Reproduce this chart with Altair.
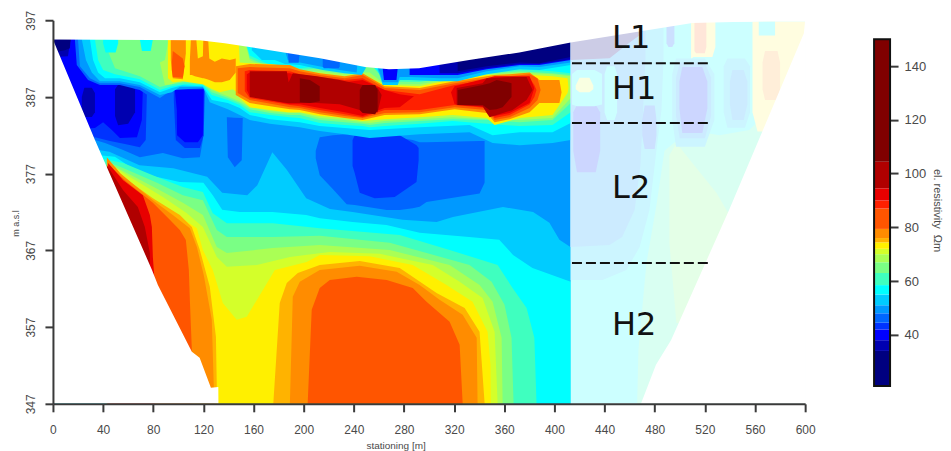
import altair as alt
import pandas as pd

TOPV = 396.8
BOT = 347

# ---------- palette (colour-bar order, low to high) ----------
band_edges = [21,34,38,42,44.5,48,51,55,58.5,63,67,70,72,74.4,76,79.4,87,90,94.5,104.4,150]
band_cols = ["#000080","#0000b0","#0000ff","#0033ff","#0066ff","#0099ff","#00ccff","#00ffff","#3fffbf","#7aff85",
             "#aaff55","#d4ff2a","#fff000","#ffb300","#ff8c00","#ff5500","#ff2000","#e80000","#b00000","#800000"]
NAVY,DB,BLUE,B33,B66,B99,BCC,CY,E3,G7,GA,GD,YE,OB,O8,O5,R2,RE,RB,MA = band_cols

def pale(c, a=0.2):
    r = [int(c[i:i+2],16) for i in (1,3,5)]
    return "#%02x%02x%02x" % tuple(round(255-a*(255-v)) for v in r)

# ---------- outline ----------
surf_x = [0,117,137,173,213,249,268,292,332,372,413,510,600]
surf_y = [394.5,394.4,394,393.1,392.05,390.9,390.6,390.75,391.8,392.8,394.1,396.65,397]
floor_x = [0,33.5,79,83.7,110.8,117,126,131.9,132,469,481,493,539.4,599,600]
floor_y = [394.5,381.4,364.45,362.5,353.8,353,349.1,349.2,347,347,352.1,355.3,372.3,395.3,397]

# ---------- low-resistivity blobs ----------
b66l_x = [0,33.5,41.5,56,69.3,87.7,103.6,117.2,119.6,120.3]
b66l_b = [382.7,381.4,381,380.1,379.15,379.7,379,379.15,381.4,388.4]
b66c_x = [138.7,139.5,145,150.6,151.4]
b66c_t = [384.35,384.35,384.3,384.25,384.25]
b66c_b = [384.35,379.15,377.85,378.75,384.25]
b66m_x = [209.6,212.8,223.2,234.3,240.7,266.2,276.6,287,292.5,298,340.3,344.3]
b66m_t = [380,381.75,382,382.15,382.4,382.55,381.65,381.4,381.1,381.1,381.25,381.25]
b66m_b = [379,376.8,375,373,372.9,372.25,372.25,372.5,372.7,373.3,374.4,375.8]
b33m_x = [239,240.7,244.7,256.6,272.6,290,291.7]
b33m_t = [381.4,382,382.55,382.7,382.4,380.7,380.35]
b33m_b = [378,377.1,374.5,373.8,373.95,375.9,378.75]
b33l_x = [0,33.5,45.5,57.4,69.3,74,75]
b33l_b = [382,381.75,381.25,380.85,380.45,381.4,387.9]
b33c_x = [96.4,98,105.2,117.2,120.3,121.1]
b33c_b = [386.6,381.4,380.35,380.35,382,388.4]
b00l_x = [0,33.5,40,47,53.4,67,70.9,71.7]
b00l_b = [382.7,382.95,383.7,382.7,381.65,381.75,384,387.9]
b00c_x = [97.2,98.8,99,105.2,115.6,119.6,120.3]
b00c_b = [387.9,385.3,382,381.1,381.1,382,388.4]
db1_x = [23,25,31,33.5]
db1_t = [387,388.2,388.2,387.5]
db1_b = [385,384.4,384.4,385]
db2_x = [49.5,52,60,65.5]
db2_t = [388,388.6,388.6,388]
db2_b = [384.5,383.3,383.5,385]

# ---------- deep contours (upper edge, filled to the floor) ----------
c1_x = [0,45,69,96,123,135,155,163,175,186.5,202,221,239,279,306,319,359,383,396,404,413]
c1_t = [381,379.85,378.1,377.7,376.6,374.5,374.2,375.5,379.8,377.5,373.8,372.4,372,371,370.7,371.35,372.65,372,370.6,368.4,367.4]
c2_x = [0,49.4,69,101,120,127.5,135,149,175,202,213,239,266,292.5,332,356,367,382.5,413]
c2_t = [380,379.2,377.1,375.9,375.8,374.2,372.3,372,372,371.6,371.2,370.7,370.3,369.3,368.75,368.4,366.4,364.7,362.9]
c3_x = [41,56,83,103.6,119.6,127.5,138.7,175.3,212.8,276.6,316.4,354.7,366.6,377.8,384,385.7,386]
c3_t = [378.9,378.4,376.55,375.25,374.6,371.85,370.55,370.55,369.9,369,367.05,365.1,362.1,359.5,355.6,347.1,347]
c4_x = [43,56,83,103.6,119.6,130.7,138.7,175.3,212.8,268.6,332.3,349.9,360.2,365.8,367.4,367.6]
c4_t = [378.6,377.75,375.8,374.2,373.55,369.65,368.75,368.75,368.9,368,365.1,362.9,359.9,355.6,347.1,347]
c5_x = [44,59,85.3,103.6,119.6,130.7,138.7,175.3,212.8,268.6,316.4,340.3,350.7,357.9,358.7,359]
c5_t = [378.4,377.1,374.85,373.2,371.6,367.45,366.65,367.3,367.7,367.05,365.1,362.5,360.3,355.6,347.1,347]
c6_x = [45,61.4,87.7,106.8,119.6,130.7,138.7,162.6,189,220.8,260.6,303,324.4,342.7,352.3,354.7,355]
c6_t = [378.3,376.55,373.95,371.85,370.05,366.15,364.85,365.1,366.15,366.8,366.55,365.1,362.9,360.8,356.4,347.1,347]
c7_x = [46,59,83,101.2,114.8,119.6,127.5,135.5,146.6,154.6,177,202.4,212.8,252.6,287,314,334.7,346.7,349,349.2,349.4]
c7_t = [378.3,375.9,373.2,371.35,369.9,367.05,364.45,360.15,357.95,358.35,364.45,365.5,366.4,366.25,365.1,362.5,360.3,356.4,352.1,347.1,347]
obl_x = [49,56,79.7,101.2,110.8,117.2,125.1,130,130.7,131]
obl_t = [378,376.55,373.8,371.6,370.05,367.05,362.25,355.75,349.2,347]
obh_x = [175.5,175.8,180.9,186.5,195.3,212.8,244.7,276.6,306,328.4,340.3,344.3,344.5]
obh_t = [347,347.1,360.15,362.75,364.05,365.1,365.6,364.7,361.45,359.5,356.4,347.1,347]
o8l_x = [43,53.4,79.7,95.6,109.2,114.8,120.3,126.7,128.3,128.6]
o8l_t = [379.15,377.1,373.55,371.6,369.9,367.45,363.8,357.95,349.2,347]
o8h_x = [188.8,189,191.3,196.9,212.8,244.7,274.2,292.5,308.4,326.8,338,338.7,339]
o8h_t = [347,347.1,360.95,362.9,364.45,365,364.2,362.5,360.55,358.6,355.6,347.1,347]
o5l_x = [47,59,79.7,93.2,101.2,106,108.4,109.2,110.8,111.2]
o5l_t = [377.75,375.9,373.2,371,369.65,368.35,364.45,360.55,354.05,347]
o5h_x = [203,203.2,206.4,212.8,220.8,242.3,266.2,287,298,316.4,324.4,326.8,327]
o5h_t = [347,347.1,359.25,362.1,363.15,363.55,363.15,362.1,360.3,357.7,354.7,347.1,347]
rel_x = [44,56,71.7,77.3,78.9,79.7,81.3,81.5]
rel_t = [378.4,376.15,374.2,371.6,370.05,366.15,362.5,347]
rbl_x = [43,56,67.7,73.3,77.3,77.5]
rbl_t = [378.1,374.85,372.65,370.05,366.65,347]

# ---------- upper layer contours ----------
A_x = [17.5,19,28,37.5,53.4,69.3,85.3,94.8,97,121.1]
A_b = [394.5,391.15,389.2,388.55,388.55,387.9,386.2,387.5,388,388]
B_x = [20,21.5,29.5,37.5,53.4,69.3,85.3,94.8,121.1]
B_b = [394.5,391,389.45,388.8,388.8,388.3,386.85,387.9,388.15]
C_x = [23,26.3,31,37.5,53.4,69.3,85.3,94.8,101.2,119.6,125.1,139.5,149,157,173,196.9,212.8,232.7,252.6,292.5,332.3,350.7,372.2,398.5,413]
C_b = [394.5,391.8,390.2,389.05,389.05,388.55,387.25,387.6,388.3,388.3,386.3,385.4,384.65,384,383.5,383.05,382.55,382.15,381.65,382.15,382.4,381,380.7,381,381.4]
D_x = [29.5,32,36,41.5,53.4,69.3,85.3,94.8,103,119.6,126.7,139.5,149,157,173,196.9,212.8,232.7,252.6,292.5,332.3,350.7,372.2,398.5,413]
D_b = [394.5,391.8,390.2,389.45,389.45,388.9,387.6,388.15,388.5,388.4,386.6,386.2,385.55,384.65,384.1,383.7,383.2,382.95,382.7,383.05,383.35,382,382.4,382.4,383.6]
E_x = [33.5,36,40,49.5,69.3,85.3,94.8,105.2,119.6,126.7,139.5,149,157,173,189,196.9,212.8,232.7,247,252.6,264.6,292.5,318.8,346,372.2,398.5,413]
E_t = [397,397,397,397,397,397,397,397,397,397,397,397,392.4,391.15,391,390.75,391,390.6,390.7,391.5,389.3,389.2,389.95,390.35,390.6,390.35,390.1]
E_b = [394.5,391.8,390.5,389.95,389.3,387.9,388.4,388.65,388.55,387.25,386.6,385.95,385,384.65,384.35,384.25,383.6,383.35,383.2,383.05,383.2,383.5,383.85,383.5,383.2,383.35,385]
F_x = [40,49.5,69.3,85.3,94.8,105.2,119.6,126.7,139.5,149,157,173,189,196.9,212.8,232.7,247,252.6,264.6,292.5,318.8,346,372.2,398.5,413]
F_t = [397,397,397,397,397,397,397,397,397,397,392.05,390.9,390.75,390.5,390.75,390.35,390.6,391.5,389.05,388.95,389.7,390.1,390.35,390.1,389.85]
F_b = [394.5,390.75,389.7,388.3,388.65,388.9,388.65,387.6,386.85,386.2,385.4,384.9,384.65,384.65,384,383.7,383.5,383.35,383.6,383.85,384.1,384,383.7,384,386.2]
p1_x = [40,42,50,52]
p1_b = [394,392.8,392.8,394]
p2_x = [69.3,71,78,79.7]
p2_b = [394.5,393,393,394.5]
G_x = [85.3,89.3,94.8,105.2,119.6,126.7,139.5,149,157,173,189,196.9,212.8,232.7,247,252.6,264.6,292.5,318.8,346,372.2,398.5,413]
G_t = [391.5,391.8,397,397,397,397,397,397,391.8,390.6,390.5,390.2,390.35,389.95,390.2,390.2,388.65,388.65,389.45,389.95,390.2,389.95,389.7]
G_b = [391.5,388.55,388.65,389.2,388.9,387.9,387.1,386.45,385.65,385.15,384.9,384.9,384.25,384,383.7,383.6,383.85,384.1,384.35,384.1,384,384.25,386.85]
I_x = [91.7,95.6,103.6,119.6,125.1,133,143.5,147.4,149,157,173,187.3,196.9,212.8,232.7,247,264.6,292.5,318.8,346,352.3,372.2,398.5,410.5,411.3]
I_t = [397,397,397,397,397,397,397,397,391.5,391.4,391.3,391,390.5,390.1,389.7,389.95,388.55,388.4,389.3,389.85,389.85,389.95,389.7,389.45,388.15]
I_b = [389.45,388.9,389.05,388.65,388.15,387.6,388,387.5,386.85,385.65,385.3,385,385,384.5,384.25,383.85,384.1,384.35,384.65,384.25,383.35,384.25,384.65,387.5,388.15]
k1_x = [94,95.6,103.6,106]
k1_b = [391.8,389.45,389.3,392.7]
k1i_x = [94.8,95.6,103.6,105]
k1i_t = [391.4,393,392,391]
k1i_b = [390.5,389.6,389.5,391]
k2_x = [109.2,110.8,113.2,115.6,119.6,120.3,123,124.7,129.1,134.7,141,145.8]
k2_t = [391.8,397,397,392,392.3,397,397,392,391.6,392,391.8,392]
k2_b = [389.85,389.85,389.7,389.6,389.45,389.45,389.3,389.2,388.9,388.9,389.2,390.2]
K_x = [145.8,157,189,196.9,212.8,232.7,247,264.6,292.5,320.4,346,352.3,364.2,380.2,388,404,405.7]
K_t = [391,391.3,391.15,390.6,390.1,389.7,390.1,388.4,388.15,389.05,389.7,389.85,389.95,390.2,389.2,389.2,387.6]
K_b = [387.25,386.2,385.4,385.3,384.75,384.25,384,384.65,384.75,385.4,384.9,383.7,384.1,385,386.2,386.2,387.6]
L_x = [147.4,157,189,196.9,212.8,232.7,247,264.6,292.5,320.4,346,352.3,364.2,380.2,386.5,389]
L_t = [390.75,390.9,390.75,390.35,389.85,389.45,389.85,388.15,387.9,388.8,389.45,389.6,389.7,389.95,389.45,387.9]
L_b = [387.5,386.6,385.65,385.55,385,384.5,384.25,384.9,385,385.65,385.3,384,384.35,385.55,386.6,387.9]
M_x = [153,157,189,196.9,212.8,232.7,247,264.6,292.5,320.4,346,352.3,364.2,380.2,384,385.7]
M_t = [390.35,390.5,390.35,389.95,389.6,389.2,389.45,387.9,387.35,388.55,389.2,389.45,389.45,389.45,388.55,387.9]
M_b = [387.75,386.85,385.95,385.8,385.3,384.75,384.35,385.3,385.3,385.95,385.55,384.25,384.65,386,387,387.9]
N1_x = [154.6,157,189,196.9,212.8,232.7,247,264.6,276.6,288]
N1_t = [389.95,390.2,390.1,389.7,389.3,388.9,389.2,387.9,387.35,387.1]
N1_b = [387.9,387.1,386.05,386.05,385.55,385,384.5,385.55,385.65,387.1]
N2_x = [317.5,320.4,346,352.3,364.2,380.2,384]
N2_t = [387.6,388.4,389.45,389.7,389.7,389.7,388.15]
N2_b = [387.6,386.05,385.65,384.5,384.9,386.2,388.15]
O1_x = [157,186.5,188,191.3,210.4,228.7,244.7,259,262.2]
O1_t = [390.35,390.35,388.9,390.1,389.7,389.2,388.65,388.15,387.25]
O1_b = [387,386.2,386.2,386.2,386.2,386.05,385.3,385,387.25]
O2_x = [322,342.7,346,348.3,366.6,377.8,382.6]
O2_t = [388.15,388.8,389.45,389.45,389.6,389.6,387.9]
O2_b = [385.95,385.8,384.9,384.35,385.3,386.6,387.9]
P1_x = [196.9,205,212.8]
P1_t = [389.45,389.2,388.4]
P1_b = [386.3,386.2,386.45]
P2_x = [244.7,247,257,259]
P2_t = [387.9,388.55,388.55,387.9]
P2_b = [385.3,384.9,384.75,385.3]
P3_x = [322.8,342.7,348.3,353.9,358.7,365.8]
P3_t = [387.9,388.55,388.8,389.2,389.05,388.8]
P3_b = [385.95,385.95,385.3,385.4,385.65,387]

# ---------- near-surface patches ----------
ccl_x = [158.6,166.6,177,185,196.9,215.2,232.7,246.3,249.5]
ccl_b = [393.1,391.8,391.8,391.3,391.15,390.5,390.1,389.85,390.75]
s99l_x = [185,187.3,196.9,215.2,228.7,242.3,243]
s99l_b = [393.1,391.8,391.5,390.9,390.5,390.2,391.8]
s66a_x = [187.3,188,196,196.9]
s66a_b = [393,391.45,391.45,393]
s66b_x = [215.2,216,228,228.7]
s66b_b = [391,390.75,390.75,391]
cap_x = [259,260.6,263,275,276.6,284.5,308.4,322.8,346,372.2,388,413]
ccr_b = [390.5,389.85,388.55,388.55,389.2,389.2,389.05,389.05,389.95,390.6,390.5,391.15]
s99r_b = [390.9,390.2,388.9,388.9,389.6,389.6,389.45,389.45,390.35,391,390.9,391.5]
s00a_x = [263,264,274,275]
s00a_b = [390.75,389.2,389.2,390.75]
s00b_x = [284.5,308.4,322.8,346,372.2,388,413]
s00b_b = [389.85,389.85,389.85,390.6,391.15,391.15,391.8]
sdb_x = [308.4,322.8,346,372.2,388,413]
sdb_b = [390.1,390.1,390.75,391.3,391.3,391.9]
snv_x = [322.8,346,372.2,388,413]
snv_b = [390.35,391,391.5,391.4,392.2]
cdb_x = [0,12,13.5,14.3]
cdb_b = [392.2,392.3,394,394.5]
cnv_x = [0,9.6,13.5,14]
cnv_b = [392.8,393.1,393.35,394.5]

# ---------- faded right part ----------
r3f_x = [466,467,473.4,481.4,487.8,507.7,531.6,555.5,579.4,600]
r3f_t = [347,354,365.35,372.9,380,382.7,382,382.7,386.6,393]
r7a_x = [491.7,497.3,510,529.2,539.6]
r7a_t = [379.4,381,378.4,374.5,371.6]
r7a_b = [367.95,357.55,357.55,357.55,357.55]
rcc_x = [413,438.4,457.5,468,475.8,481.4,485.4,487]
rcc_b = [363.15,363.15,364.45,367.45,372.25,380.1,385.3,391.8]
r99_x = [413,444,454,464,468.6,472.6]
r99_b = [367.45,367.7,368.75,372.25,378.1,391.8]
rl1_x = [415,418,433,436.5]
rl1_t = [385,385.95,385.95,385]
rl1_b = [380,377.2,377.2,380]
rl2_x = [470,472,480,481.4]
rl2_t = [384,385.9,385.9,384]
rl2_b = [382,380.2,380.2,382]
rcs_x = [440,442,448,450]
rcs_t = [390,391,391,390]
rcs_b = [385,384,384,385]
rwd_x = [413,444,460,468,472]
rwd_b = [391.8,392.05,394.1,395.05,395.95]
rb1_x = [414,418,432,438]
rb1_t = [390,390.5,390.5,390]
rb1_b = [386,385.8,385.8,386]
rb2_x = [417,420,428,431]
rb2_t = [388.5,389.5,389.5,388.5]
rb2_b = [388,387.6,387.6,388]
rt1_x = [489.4,491,494,495.7]
rt1_b = [394,393.5,393.5,394]
rs1_x = [494,497,520,527.6]
rs1_t = [390,392,392,390]
rs1_b = [384,380.5,380.5,384]
rs2_x = [497,500,520,525]
rs2_t = [389.5,391.5,391.5,389.5]
rs2_b = [384.5,381.6,381.6,384.5]
rs3_x = [499.7,502,518,522]
rs3_t = [389,390.9,390.9,389]
rs3_b = [385.5,382.3,382.3,385.5]
rs4_x = [535,538,552,556]
rs4_t = [391,392,392,391]
rs4_b = [385,383,383,385]
rs5_x = [540,542,551,553.9]
rs5_t = [389,390.5,390.5,389]
rs5_b = [386,384,384,386]
ry1_x = [558,562,585,600]
ry1_b = [385,382.5,382.5,393]
ry2_x = [566,568,578,580]
ry2_t = [391.5,393,393,391.5]
ry2_b = [388,386.6,386.6,388]
ry3_x = [563,565,574,576]
ry3_b = [395,395,395,395]
ry4_x = [509,511,526,528.4]
ry4_b = [392,392.2,392.2,393.5]
ry5_x = [511.7,513,520,521.2]
ry5_b = [393,392.7,392.7,393.5]

# ---------- annotations ----------
div_x1 = [414,414,414]
div_x2 = [525,525,525]
div_y = [391.4,383.6,365.35]
lab_txt = ["L1","H1","L2","H2"]
lab_x = [446,446,446,446]
lab_y = [394.7,388.0,375.1,357.3]
x_ticks = list(range(0,601,40))
y_ticks = [347,357,367,377,387,397]
cb_ticks = [40,60,80,100,120,140]

AX = "#3a3a3a"
LB = "#4a4a4a"
FONT = "Liberation Sans"
xenc = alt.X("x:Q", scale=alt.Scale(domain=[0,600], nice=False, zero=False),
             axis=alt.Axis(values=x_ticks, title="stationing [m]", grid=False, zindex=1, format="d",
                           tickSize=8, tickWidth=2, domainWidth=2, tickColor=AX, domainColor=AX,
                           labelFont=FONT, labelFontSize=12, labelColor=LB, labelPadding=13, labelFlush=False,
                           titleFont=FONT, titleFontSize=10, titleFontWeight="normal", titleColor=LB, titlePadding=5,
                           titleX=343))
yenc = alt.Y("t:Q", scale=alt.Scale(domain=[BOT,397], nice=False, zero=False),
             axis=alt.Axis(values=y_ticks, title="m a.s.l", grid=False, zindex=1, format="d",
                           tickSize=8, tickWidth=2, domainWidth=2, tickColor=AX, domainColor=AX,
                           labelAngle=270, labelAlign="center", labelBaseline="bottom",
                           labelFont=FONT, labelFontSize=12, labelColor=LB, labelPadding=7, labelFlush=False,
                           titleFont=FONT, titleFontSize=9, titleFontWeight="normal", titleColor=LB, titlePadding=4,
                           titleY=203))

layers = []
def add(col, xs, top=TOPV, bot=BOT):
    n = len(xs)
    tops = top if isinstance(top, list) else [top]*n
    d = pd.DataFrame({"x": xs,
                      "t": [min(v, TOPV) for v in tops] if col != "#ffffff" else tops,
                      "b": bot if isinstance(bot, list) else [bot]*n})
    layers.append(alt.Chart(d).mark_area(color=col, interpolate="linear", opacity=1, clip=True).encode(
        x=xenc, y=yenc, y2="b:Q"))

add(B99,[0,413])
add(B66,b66l_x,bot=b66l_b)
add(B66,b66c_x,b66c_t,b66c_b)
add(B66,b66m_x,b66m_t,b66m_b)
add(B33,b33m_x,b33m_t,b33m_b)
add(B33,b33l_x,bot=b33l_b)
add(B33,b33c_x,bot=b33c_b)
add(BLUE,b00l_x,bot=b00l_b)
add(BLUE,b00c_x,bot=b00c_b)
add(DB,db1_x,db1_t,db1_b)
add(DB,db2_x,db2_t,db2_b)
add(BCC,c1_x,c1_t)
add(CY,c2_x,c2_t)
add(E3,c3_x,c3_t)
add(G7,c4_x,c4_t)
add(GA,c5_x,c5_t)
add(GD,c6_x,c6_t)
add(YE,c7_x,c7_t)
add(OB,obl_x,obl_t)
add(OB,obh_x,obh_t)
add(O8,o8l_x,o8l_t)
add(O8,o8h_x,o8h_t)
add(O5,o5l_x,o5l_t)
add(O5,o5h_x,o5h_t)
add(RE,rel_x,rel_t)
add(RB,rbl_x,rbl_t)
add(B66,A_x,bot=A_b)
add(B99,B_x,bot=B_b)
add(BCC,C_x,bot=C_b)
add(CY,D_x,bot=D_b)
add(E3,E_x,E_t,E_b)
add(G7,F_x,F_t,F_b)
add(CY,p1_x,bot=p1_b)
add(CY,p2_x,bot=p2_b)
add(GA,G_x,G_t,G_b)
add(YE,I_x,I_t,I_b)
add(O8,k1_x,bot=k1_b)
add(O5,k1i_x,k1i_t,k1i_b)
add(O8,k2_x,k2_t,k2_b)
add(O8,K_x,K_t,K_b)
add(O5,L_x,L_t,L_b)
add(R2,M_x,M_t,M_b)
add(RE,N1_x,N1_t,N1_b)
add(RE,N2_x,N2_t,N2_b)
add(RB,O1_x,O1_t,O1_b)
add(RB,O2_x,O2_t,O2_b)
add(MA,P1_x,P1_t,P1_b)
add(MA,P2_x,P2_t,P2_b)
add(MA,P3_x,P3_t,P3_b)
add(BCC,ccl_x,bot=ccl_b)
add(B99,s99l_x,bot=s99l_b)
add(B66,s66a_x,bot=s66a_b)
add(B66,s66b_x,bot=s66b_b)
add(BCC,cap_x,bot=ccr_b)
add(B99,cap_x,bot=s99r_b)
add(BLUE,s00a_x,bot=s00a_b)
add(BLUE,s00b_x,bot=s00b_b)
add(DB,sdb_x,bot=sdb_b)
add(NAVY,snv_x,bot=snv_b)
add(DB,cdb_x,bot=cdb_b)
add(NAVY,cnv_x,bot=cnv_b)
# faded part
add(pale(CY),[413,600])
add(pale(E3),r3f_x,r3f_t)
add(pale(G7),r7a_x,r7a_t,r7a_b)
add(pale(BCC),rcc_x,bot=rcc_b)
add(pale(B99),r99_x,bot=r99_b)
add(pale(B33),rl1_x,rl1_t,rl1_b)
add(pale(B66),rl2_x,rl2_t,rl2_b)
add(pale(CY),rcs_x,rcs_t,rcs_b)
add(pale(NAVY),rwd_x,bot=rwd_b)
add(pale(CY),rb1_x,rb1_t,rb1_b)
add(pale(GD,0.14),rb2_x,rb2_t,rb2_b)
add(pale(B66),rt1_x,bot=rt1_b)
add(pale(BCC),rs1_x,rs1_t,rs1_b)
add(pale(B99),rs2_x,rs2_t,rs2_b)
add(pale(B33),rs3_x,rs3_t,rs3_b)
add(pale(BCC),rs4_x,rs4_t,rs4_b)
add(pale(B99),rs5_x,rs5_t,rs5_b)
add(pale(YE,0.12),ry1_x,bot=ry1_b)
add(pale(O8,0.15),ry2_x,ry2_t,ry2_b)
add(pale(CY),ry3_x,bot=ry3_b)
add(pale(YE,0.12),ry4_x,bot=ry4_b)
add(pale(O5,0.15),ry5_x,bot=ry5_b)
# white outside the section
add("#ffffff",surf_x,top=surf_y,bot=397)
add("#ffffff",floor_x,top=floor_y,bot=BOT)

div_df = pd.DataFrame({"x": div_x1, "x2": div_x2, "t": div_y})
dashes = alt.Chart(div_df).mark_rule(color="#111111", strokeWidth=2, strokeDash=[10,4]).encode(
    x=xenc, x2="x2:Q", y=yenc)

lab_df = pd.DataFrame({"x": lab_x, "t": lab_y, "s": lab_txt})
labels = alt.Chart(lab_df).mark_text(font="DejaVu Sans", fontSize=32, align="left", baseline="middle", color="#111111").encode(
    x=xenc, y=yenc, text="s:N")

main = alt.layer(*layers, dashes, labels).properties(width=753, height=384)

cb_df = pd.DataFrame({"y": band_edges[:-1], "y2": band_edges[1:], "fill": band_cols})
cb_y = alt.Y("y:Q", scale=alt.Scale(domain=[14.33,157.04], nice=False, zero=False),
             axis=alt.Axis(values=cb_ticks, orient="right", title="el. resistivity\u00a0\u00a0\u03a9m", grid=False, domain=False,
                           tickSize=8, tickWidth=2, tickColor=AX, labelFont=FONT, labelFontSize=13, labelColor=LB,
                           labelPadding=6, titleFont=FONT, titleFontSize=11, titleFontWeight="normal",
                           titleColor=LB, titlePadding=6, titleY=190))
cb = alt.Chart(cb_df).mark_rect().encode(y=cb_y, y2="y2:Q", fill=alt.Fill("fill:N", scale=None),
                                         x=alt.value(0), x2=alt.value(16))
cb_frame = alt.Chart(pd.DataFrame({"y":[band_edges[0]], "y2":[band_edges[-1]]})).mark_rect(
    fillOpacity=0, stroke="#111111", strokeWidth=2).encode(y=cb_y, y2="y2:Q", x=alt.value(0), x2=alt.value(16))
bar = alt.layer(cb, cb_frame).properties(width=16, height=384)

chart = alt.hconcat(main, bar, spacing=57, padding={"left":4,"top":1,"right":0,"bottom":0},
                    background="#ffffff").configure_view(stroke=None)

chart.save("out.html", embed_options={"renderer": "svg", "actions": False})
